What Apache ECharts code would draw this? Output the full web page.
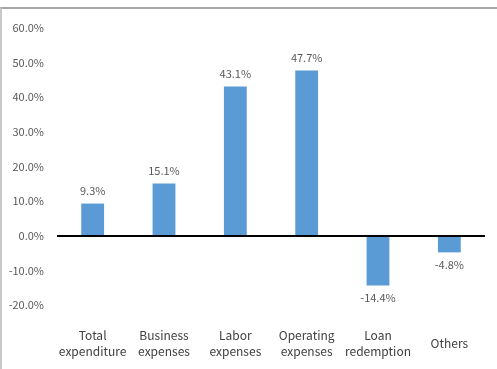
<!DOCTYPE html>
<html>
<head>
<meta charset="utf-8">
<script src="https://cdn.jsdelivr.net/npm/echarts@6/dist/echarts.min.js"></script>
<style>
  html, body { margin: 0; padding: 0; background: #fff; }
  #frame { position: absolute; left: 0; top: 7px; width: 497px; height: 362px;
           border-top: 2px solid #a6a6a6; border-left: 2px solid #c8c8c8; box-sizing: border-box; }
  #chart { position: absolute; left: 0; top: 0; width: 497px; height: 369px; }
</style>
</head>
<body>
<div id="frame"></div>
<div id="chart"></div>
<script>
// Year-on-year change by expenditure item
const categories = ['Total\nexpenditure', 'Business\nexpenses', 'Labor\nexpenses', 'Operating\nexpenses', 'Loan\nredemption', 'Others'];
const changePct = [9.3, 15.1, 43.1, 47.7, -14.4, -4.8];
const yTicks = { min: -20, max: 60, step: 10 };

const font = '"Noto Sans CJK KR", "Noto Sans", sans-serif';
const chart = echarts.init(document.getElementById('chart'), null, { renderer: 'canvas' });

chart.setOption({
  animation: false,
  grid: { left: 57, right: 12, top: 28, bottom: 64, containLabel: false },
  xAxis: {
    type: 'category',
    data: categories,
    axisLine: { show: false },
    axisTick: { show: false },
    // category names are centred vertically in the band under the plot
    axisLabel: { color: '#404040', fontSize: 12, fontFamily: font, lineHeight: 16, margin: 38,
                 verticalAlign: 'middle', interval: 0 }
  },
  yAxis: {
    type: 'value',
    min: yTicks.min, max: yTicks.max, interval: yTicks.step,
    axisLine: { show: false },
    axisTick: { show: false },
    splitLine: { show: false },
    axisLabel: { color: '#595959', fontSize: 11, fontFamily: font, margin: 13,
                 formatter: v => v.toFixed(1) + '%' }
  },
  series: [{
    type: 'bar',
    data: changePct.map(v => ({
      value: v,
      label: { position: v >= 0 ? 'top' : 'bottom' }
    })),
    barWidth: '32%',
    itemStyle: { color: '#5B9BD5' },
    label: { show: true, color: '#595959', fontSize: 11, fontFamily: font, distance: 7,
             formatter: p => p.value.toFixed(1) + '%' },
    markLine: {
      silent: true, symbol: 'none', label: { show: false },
      lineStyle: { color: '#000', width: 2, type: 'solid' },
      data: [{ yAxis: 0 }]
    }
  }]
});
</script>
</body>
</html>
